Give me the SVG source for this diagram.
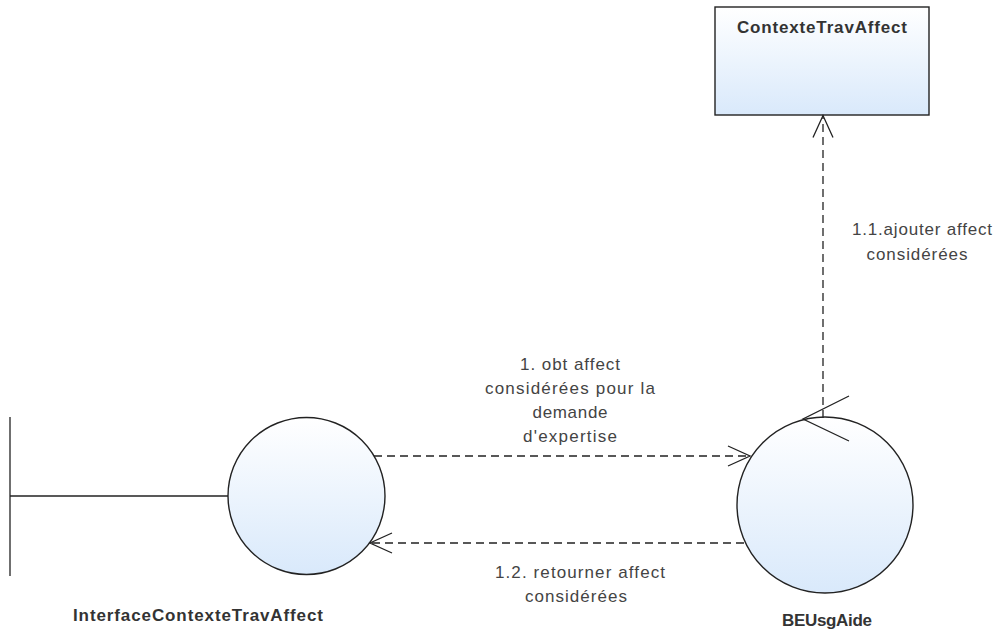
<svg xmlns="http://www.w3.org/2000/svg" width="998" height="634" viewBox="0 0 998 634">
<defs>
<linearGradient id="fill" x1="0" y1="0" x2="0" y2="1">
<stop offset="0" stop-color="#ffffff"/>
<stop offset="1" stop-color="#d9e9fb"/>
</linearGradient>
<marker id="open" markerWidth="26" markerHeight="24" refX="23" refY="11" orient="auto" markerUnits="userSpaceOnUse">
<polyline points="1,1 23,11 1,21" fill="none" stroke="#222" stroke-width="1.3"/>
</marker>
<style>
.shape{fill:url(#fill);stroke:#222;stroke-width:1.4}
.line{fill:none;stroke:#222;stroke-width:1.3}
.dash{fill:none;stroke:#222;stroke-width:1.3;stroke-dasharray:8,5}
.name{font-family:"Liberation Sans",Arial,sans-serif;font-weight:bold;font-size:17px;fill:#333;text-anchor:middle}
.lbl{font-family:"Liberation Sans",Arial,sans-serif;font-size:17px;fill:#444;text-anchor:middle}
</style>
</defs>
<rect width="998" height="634" fill="#ffffff"/>

<g id="ContexteTravAffect">
<rect class="shape" x="715" y="7" width="214" height="108"/>
<text class="name" x="822" y="33" textLength="170" lengthAdjust="spacing">ContexteTravAffect</text>
</g>

<g id="InterfaceContexteTravAffect">
<line class="line" x1="10" y1="417" x2="10" y2="576"/>
<line class="line" x1="10" y1="496" x2="228" y2="496"/>
<circle class="shape" cx="306.5" cy="496" r="78.5"/>
<text class="name" x="198" y="621" textLength="250" lengthAdjust="spacing">InterfaceContexteTravAffect</text>
</g>

<g id="BEUsgAide">
<circle class="shape" cx="825" cy="505" r="88"/>
<text class="name" x="827" y="626" textLength="90" lengthAdjust="spacing">BEUsgAide</text>
</g>

<g id="connectors">
<line class="dash" x1="374" y1="456" x2="750" y2="456" marker-end="url(#open)"/>
<line class="dash" x1="744" y1="543" x2="370" y2="543" marker-end="url(#open)"/>
<line class="dash" x1="823" y1="418" x2="823" y2="115.5" marker-end="url(#open)"/>
<polyline class="line" points="849,396 803,419 849,441"/>
<text class="lbl" x="570" y="370" textLength="100" lengthAdjust="spacing">1. obt affect</text>
<text class="lbl" x="570" y="394" textLength="170" lengthAdjust="spacing">considérées pour la</text>
<text class="lbl" x="570" y="418" textLength="75" lengthAdjust="spacing">demande</text>
<text class="lbl" x="570" y="442" textLength="94" lengthAdjust="spacing">d'expertise</text>
<text class="lbl" x="580" y="578" textLength="170" lengthAdjust="spacing">1.2. retourner affect</text>
<text class="lbl" x="576" y="602" textLength="102" lengthAdjust="spacing">considérées</text>
<text class="lbl" x="922" y="235" textLength="140" lengthAdjust="spacing">1.1.ajouter affect</text>
<text class="lbl" x="917" y="260" textLength="101" lengthAdjust="spacing">considérées</text>
</g>
</svg>
